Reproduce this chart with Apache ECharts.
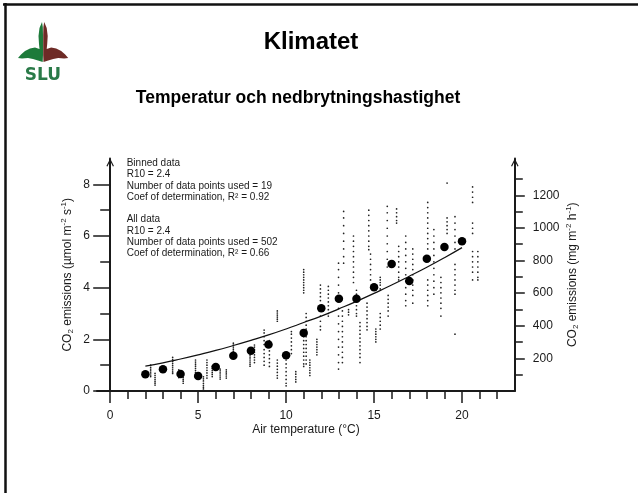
<!DOCTYPE html>
<html><head><meta charset="utf-8">
<script src="https://cdn.jsdelivr.net/npm/echarts@6/dist/echarts.min.js"></script>
<style>html,body{margin:0;padding:0;background:#fff}#c{width:638px;height:493px}</style>
</head><body><div id="c"></div>
<script>
// ---------- data ----------
const binTemp = [2,3,4,5,6,7,8,9,10,11,12,13,14,15,16,17,18,19,20];
const binFlux = [0.65,0.84,0.66,0.58,0.93,1.36,1.56,1.80,1.38,2.25,3.20,3.57,3.57,4.02,4.92,4.26,5.12,5.57,5.80];

const fitTemp = [2,3,4,5,6,7,8,9,10,11,12,13,14,15,16,17,18,19,20];
const fitFlux = [0.96,1.09,1.24,1.40,1.57,1.76,1.96,2.17,2.40,2.65,2.90,3.18,3.47,3.78,4.10,4.44,4.79,5.16,5.55];

const allTemp = [2.3,2.55,3.55,3.9,4.15,4.85,5.3,5.5,5.8,6.25,6.6,7.0,7.95,8.2,8.75,9.05,9.5,10.0,10.3,10.55,
  11.0,11.14,11.35,11.75,11.95,12.4,12.98,13.2,13.27,13.55,13.83,14.0,14.2,14.6,14.7,14.8,15.1,15.35,15.75,15.8,
  16.28,16.4,16.8,17.2,18.05,18.4,18.8,19.15,19.6,20.6,20.9];
const allFlux = [
  [1.0,0.92,0.85,0.78,0.7,0.62,0.56],
  [0.68,0.6,0.52,0.44,0.36,0.3,0.23],
  [1.3,1.22,1.14,1.06,0.98,0.9,0.82,0.74,0.68],
  [0.82,0.75,0.68,0.6,0.52],
  [0.6,0.52,0.45,0.38,0.3],
  [1.2,1.12,1.04,0.96,0.88,0.8,0.72,0.64,0.56],
  [0.55,0.47,0.39,0.3,0.22,0.15,0.08],
  [1.2,1.1,1.0,0.9,0.8,0.7,0.6,0.5],
  [0.95,0.88,0.8,0.72,0.64,0.56],
  [0.85,0.78,0.7,0.62,0.54,0.46],
  [0.82,0.74,0.66,0.58,0.5],
  [1.85,1.78,1.7,1.62,1.54,1.46,1.38],
  [1.6,1.52,1.44,1.36,1.28,1.2,1.12,1.04,0.96],
  [1.78,1.7,1.6,1.5,1.4,1.3,1.2,1.1],
  [2.36,2.25,2.1,1.95,1.8,1.6,1.45,1.3,1.15,1.0],
  [1.95,1.85,1.7,1.55,1.4,1.25,1.1,0.95],
  [3.1,3.02,2.94,2.86,2.78,2.7,1.2,1.08,0.96,0.84,0.72,0.6,0.5],
  [1.2,1.05,0.9,0.75,0.6,0.45,0.3,0.2],
  [2.3,2.2,2.05,1.9,1.75,1.6,1.45],
  [0.75,0.65,0.55,0.45,0.35],
  [4.7,4.6,4.5,4.4,4.3,4.2,4.1,4.0,3.9,3.8,2.24,2.1,1.95,1.8,1.65,1.5,1.35,1.2,1.05,0.95],
  [3.0,2.85,2.7,2.55,2.4,2.25,2.1,1.95,1.8,1.65,1.5,1.35,1.2,1.05],
  [1.2,1.1,1.0,0.9,0.8,0.7,0.6],
  [2.0,1.9,1.8,1.7,1.6,1.5,1.4],
  [4.1,3.95,3.8,3.65,3.5,3.3,3.1,2.9,2.7,2.5,2.37],
  [4.05,3.9,3.75,3.6,3.45,3.3,3.15,3.0,2.9],
  [4.95,4.7,4.4,4.1,3.8,3.5,3.2,2.9,2.6,2.3,2.0,1.7,1.4,1.1,0.85],
  [3.1,2.9,2.7,2.5,2.3,2.1,1.9,1.7,1.5,1.3,1.1],
  [6.95,6.7,6.4,6.1,5.8,5.5,5.2,4.95],
  [3.15,3.05,2.95],
  [6.0,5.8,5.6,5.4,5.2,5.0,4.8,4.6,4.4,4.2],
  [3.9,3.75,3.6,3.45,3.3,3.15,3.0,2.9],
  [2.65,2.5,2.35,2.2,2.05,1.9,1.75,1.6,1.45,1.3,1.1],
  [3.4,3.25,3.1,2.95,2.8,2.65,2.5,2.37],
  [7.0,6.8,6.6,6.4,6.2,6.0,5.8,5.6,5.47],
  [5.3,5.1,4.9,4.7,4.5,4.3],
  [2.4,2.3,2.2,2.1,2.0,1.9],
  [4.4,4.3,4.2,4.1,3.95,3.0,2.85,2.7,2.55,2.4],
  [7.15,6.9,6.6,6.3,6.0,5.7,5.4,5.1,4.8],
  [3.7,3.55,3.4,3.25,3.1,2.9],
  [7.05,6.9,6.75,6.6,6.5],
  [5.6,5.4,5.2,5.0,4.8,4.6,4.4,4.3],
  [6.0,5.75,5.5,5.25,5.0,4.75,4.5,4.25,4.0,3.75,3.5,3.3],
  [5.5,5.3,5.1,4.9,4.7,4.5,4.3,4.1,3.9,3.7,3.4],
  [7.3,7.1,6.9,6.7,6.5,6.3,6.1,5.9,5.7,5.5,4.3,4.1,3.9,3.7,3.5,3.3],
  [6.25,6.0,5.75,5.5,5.25,5.0,4.75,4.5,4.25,4.0,3.75],
  [4.4,4.2,4.0,3.8,3.6,3.4,3.2,2.9],
  [8.05,6.7,6.55,6.4,6.25,6.1],
  [6.75,6.5,6.25,6.0,5.75,5.5,4.9,4.7,4.5,4.3,4.1,3.9,3.75,2.2],
  [7.9,7.7,7.5,7.3,6.5,6.3,6.1,5.4,5.2,5.0,4.8,4.6,4.3],
  [5.4,5.2,5.0,4.8,4.6,4.4,4.3]
];

const xMajorTicks = [0,5,10,15,20];
const xMinorTicks = [1,2,3,4,6,7,8,9,11,12,13,14,16,17,18,19,21,22];
const yLeftMajor = [0,2,4,6,8];
const yLeftMinor = [1,3,5,7];
const yRightMajor = [200,400,600,800,1000,1200];
const yRightMinor = [100,300,500,700,900,1100,1300];

const annotationLines = [
  'Binned data','R10 = 2.4','Number of data points used = 19','Coef of determination, R² = 0.92','',
  'All data','R10 = 2.4','Number of data points used = 502','Coef of determination, R² = 0.66'
];

// ---------- build ----------
const allPoints = [];
allTemp.forEach((t, i) => allFlux[i].forEach(v => allPoints.push([t, v])));
const binPoints = binTemp.map((t, i) => [t, binFlux[i]]);
const fitPoints = fitTemp.map((t, i) => [t, fitFlux[i]]);

const FONT = '"Liberation Sans", Arial, sans-serif';
const INK = '#1a1a1a';
const ARROW = 'path://M0,10 L5,0 L10,10 L8.6,10.6 L5,3.2 L1.4,10.6 Z';
const RIGHT_MAX = 9 * 158.4;
const tickStyle = {color: INK, width: 1.5};
const labelStyle = {fontSize: 12, color: INK, fontFamily: FONT, formatter: v => String(v)};
const nameStyle = {
  fontSize: 12, color: INK, fontFamily: FONT, lineHeight: 15,
  rich: {
    sub: {fontSize: 8, lineHeight: 8, verticalAlign: 'bottom', color: INK, fontFamily: FONT},
    sup: {fontSize: 8, lineHeight: 8, verticalAlign: 'top', color: INK, fontFamily: FONT}
  }
};

const greenLeaf = [[42,22],[39.5,28],[38.5,36],[39,44],[39.5,49],[35,47.5],[30,48.5],[25,51],[21,54.5],[18,58],
  [22,58.5],[28,58],[33,59],[38,60.5],[42.7,62],[43,55],[43,45],[43,35],[42.8,27]];
const brownLeaf = greenLeaf.map(p => [86.2 - p[0], p[1]]);

const chart = echarts.init(document.getElementById('c'));
chart.setOption({
  animation: false,
  backgroundColor: '#ffffff',
  grid: {left: 97, right: 123.2, top: 158.5, bottom: 102, containLabel: false},
  xAxis: [
    {type: 'value', min: -0.75, max: 23, position: 'bottom',
     axisLine: {show: true, onZero: true, onZeroAxisIndex: 0, lineStyle: {color: INK, width: 2}},
     axisTick: {show: true, customValues: xMinorTicks, length: 8, lineStyle: tickStyle},
     axisLabel: {show: false}, splitLine: {show: false}},
    {type: 'value', min: -0.75, max: 23, position: 'bottom',
     axisLine: {show: false, onZero: true, onZeroAxisIndex: 0},
     axisTick: {show: true, customValues: xMajorTicks, length: 12, lineStyle: tickStyle},
     axisLabel: Object.assign({customValues: xMajorTicks, margin: 19}, labelStyle),
     name: 'Air temperature (°C)', nameLocation: 'middle', nameGap: 33, nameMoveOverlap: false,
     nameTextStyle: {fontSize: 12, color: INK, fontFamily: FONT},
     splitLine: {show: false}}
  ],
  yAxis: [
    {type: 'value', min: 0, max: 9, position: 'left',
     axisLine: {show: true, onZero: true, onZeroAxisIndex: 0, symbol: ['none', ARROW], symbolSize: [9, 8], symbolOffset: [0, -4],
       lineStyle: {color: INK, width: 2}},
     axisTick: {show: true, customValues: yLeftMajor, length: 17, lineStyle: tickStyle},
     axisLabel: Object.assign({customValues: yLeftMajor, margin: 7}, labelStyle),
     name: 'CO{sub|2} emissions (µmol m{sup|-2} s{sup|-1})', nameLocation: 'middle', nameGap: 22, nameMoveOverlap: false,
     nameTextStyle: nameStyle, splitLine: {show: false}},
    {type: 'value', min: 0, max: 9, position: 'left',
     axisLine: {show: false, onZero: true, onZeroAxisIndex: 0},
     axisTick: {show: true, customValues: yLeftMinor, length: 10, lineStyle: tickStyle},
     axisLabel: {show: false}, splitLine: {show: false}},
    {type: 'value', min: 0, max: RIGHT_MAX, position: 'right',
     axisLine: {show: true, onZero: false, symbol: ['none', ARROW], symbolSize: [9, 8], symbolOffset: [0, -4],
       lineStyle: {color: INK, width: 2}},
     axisTick: {show: true, customValues: yRightMajor, length: 10, lineStyle: tickStyle},
     axisLabel: Object.assign({customValues: yRightMajor, margin: 18}, labelStyle),
     name: 'CO{sub|2} emissions (mg m{sup|-2} h{sup|-1})', nameLocation: 'middle', nameGap: 50, nameMoveOverlap: false,
     nameTextStyle: nameStyle, splitLine: {show: false}},
    {type: 'value', min: 0, max: RIGHT_MAX, position: 'right',
     axisLine: {show: false, onZero: false},
     axisTick: {show: true, customValues: yRightMinor, length: 8, lineStyle: tickStyle},
     axisLabel: {show: false}, splitLine: {show: false}}
  ],
  series: [
    {name: 'All data', type: 'scatter', xAxisIndex: 0, yAxisIndex: 0, data: allPoints,
     symbol: 'circle', symbolSize: 1.7, itemStyle: {color: '#222', opacity: 1}, z: 2, silent: true},
    {name: 'Fit', type: 'line', xAxisIndex: 0, yAxisIndex: 0, data: fitPoints, smooth: true,
     showSymbol: false, symbol: 'none', lineStyle: {color: '#111', width: 1.2}, z: 3, silent: true},
    {name: 'Binned data', type: 'scatter', xAxisIndex: 0, yAxisIndex: 0, data: binPoints,
     symbol: 'circle', symbolSize: 8.5, itemStyle: {color: '#000', opacity: 1}, z: 4, silent: true}
  ],
  graphic: [
    {type: 'line', shape: {x1: 3, y1: 4.5, x2: 638, y2: 4.5}, style: {stroke: '#111', lineWidth: 2.5}},
    {type: 'line', shape: {x1: 5.5, y1: 3, x2: 5.5, y2: 493}, style: {stroke: '#111', lineWidth: 2.5}},
    {type: 'polygon', shape: {points: greenLeaf}, style: {fill: '#1d7a3a'}},
    {type: 'polygon', shape: {points: brownLeaf}, style: {fill: '#6e2b26'}},
    {type: 'text', x: 43, y: 76, style: {text: 'SLU', font: 'bold 17px "DejaVu Sans"', fill: '#2a7a48',
      align: 'center', verticalAlign: 'middle', textAlign: 'center', textVerticalAlign: 'middle'}},
    {type: 'text', x: 311, y: 42, style: {text: 'Klimatet', font: 'bold 24px ' + FONT, fill: '#000',
      align: 'center', verticalAlign: 'middle', textAlign: 'center', textVerticalAlign: 'middle'}},
    {type: 'text', x: 298, y: 98, style: {text: 'Temperatur och nedbrytningshastighet', font: 'bold 17.5px ' + FONT, fill: '#000',
      align: 'center', verticalAlign: 'middle', textAlign: 'center', textVerticalAlign: 'middle'}},
    {type: 'text', x: 126.7, y: 157.5, style: {text: annotationLines.join('\n'), font: '10px ' + FONT, fill: INK,
      lineHeight: 11.3, align: 'left', verticalAlign: 'top', textAlign: 'left', textVerticalAlign: 'top'}}
  ]
});
</script></body></html>
